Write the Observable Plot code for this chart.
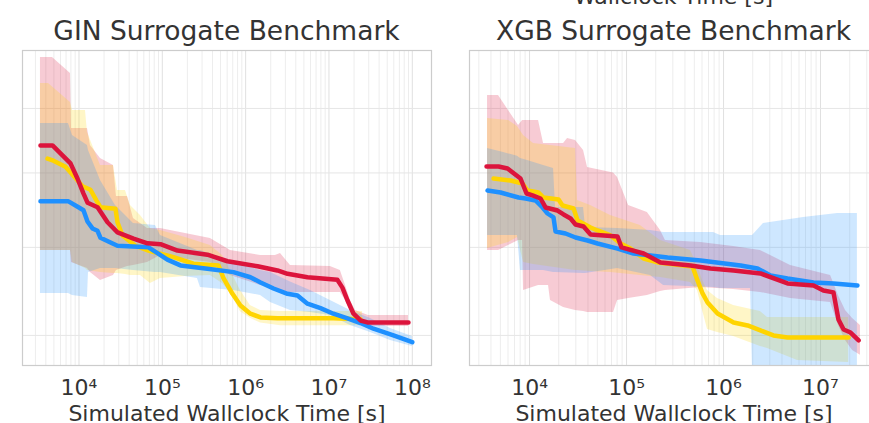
<!DOCTYPE html>
<html><head><meta charset="utf-8">
<script src="https://cdn.jsdelivr.net/npm/d3@7"></script>
<script src="https://cdn.jsdelivr.net/npm/@observablehq/plot@0.6"></script>
<style>
html,body{margin:0;padding:0;background:#fff;overflow:hidden;}
#wrap{position:relative;width:869px;height:423px;overflow:hidden;font-family:"DejaVu Sans",sans-serif;color:#333;}
.title{position:absolute;top:18px;width:409px;text-align:center;font-size:26.5px;line-height:26px;white-space:nowrap;}
.cut{position:absolute;top:-14px;left:469px;width:409px;text-align:center;font-size:22px;line-height:22px;white-space:nowrap;}
.panel{position:absolute;top:48px;width:440px;height:375px;}
.panel svg{max-width:none !important;width:440px;height:375px;}
</style></head><body>
<div id="wrap">
  <div class="cut">Wallclock Time [s]</div>
  <div class="title" style="left:22px">GIN Surrogate Benchmark</div>
  <div class="title" style="left:469px">XGB Surrogate Benchmark</div>
  <div class="panel" id="left" style="left:0px"></div>
  <div class="panel" id="right" style="left:440px"></div>
</div>
<script>
// ---------- shared ----------
const panelTitles = ["GIN Surrogate Benchmark", "XGB Surrogate Benchmark"];
const xLabel = "Simulated Wallclock Time [s]";
const yGrid = [5, 6, 7, 8];
const yDomain = [4.698, 9.02];
const colors = {red: "#dc143c", yellow: "#ffd400", blue: "#1e90ff"};

// ---------- GIN panel ----------
const ginDomain = [2100, 1.7e8];
const ginTicks = [1e4, 1e5, 1e6, 1e7, 1e8];

const ginRedT = [3450, 4810, 6340, 7910, 9590, 11300, 12700, 16700, 22000, 29000, 45100, 66400, 95100, 152000, 348000, 605000, 1.39e6, 2.41e6, 3.18e6, 5.52e6, 1.26e7, 1.45e7, 1.67e7, 1.97e7, 2.39e7, 2.90e7, 9.0e7];
const ginRedV = [7.41, 7.41, 7.26, 7.14, 6.92, 6.71, 6.58, 6.52, 6.32, 6.19, 6.11, 6.05, 6.04, 5.96, 5.91, 5.83, 5.77, 5.72, 5.68, 5.64, 5.61, 5.52, 5.375, 5.23, 5.157, 5.136, 5.136];

const ginYellowT = [4190, 4940, 6890, 8590, 11020, 13740, 16220, 18120, 27420, 28980, 33270, 47640, 68230, 87500, 136000, 237000, 472000, 542000, 695000, 867000, 1.14e6, 1.51e6, 2.41e6, 1.13e7, 2.39e7];
const ginYellowV = [7.21, 7.18, 7.09, 6.96, 6.81, 6.76, 6.61, 6.52, 6.50, 6.32, 6.15, 6.02, 5.96, 5.93, 5.88, 5.80, 5.78, 5.63, 5.45, 5.32, 5.23, 5.19, 5.18, 5.18, 5.17];

const ginBlueT = [3450, 7480, 9860, 11320, 12650, 14520, 16680, 18120, 23880, 28980, 68230, 87500, 115000, 165000, 348000, 714000, 1.14e6, 1.51e6, 2.16e6, 3.18e6, 4.19e6, 5.52e6, 7.91e6, 1.13e7, 1.67e7, 2.39e7, 3.42e7, 5.94e7, 1.0e8];
const ginBlueV = [6.60, 6.60, 6.52, 6.48, 6.33, 6.24, 6.21, 6.12, 6.06, 6.02, 6.00, 5.93, 5.85, 5.78, 5.74, 5.70, 5.64, 5.58, 5.51, 5.45, 5.43, 5.34, 5.29, 5.23, 5.18, 5.13, 5.07, 5.00, 4.93];

const ginRedBandT = [3450, 4810, 7910, 8130, 12650, 13740, 18120, 25940, 28180, 38190, 45080, 66370, 95100, 165000, 378000, 658000, 1.51e6, 2.28e6, 2.62e6, 3.45e6, 1.04e7, 1.37e7, 1.58e7, 1.81e7, 2.08e7, 2.98e7, 9.0e7];
const ginRedLo = [5.962, 5.962, 5.962, 5.816, 5.744, 5.697, 5.603, 5.661, 5.720, 5.768, 5.780, 5.816, 5.900, 5.863, 5.816, 5.661, 5.545, 5.511, 5.488, 5.466, 5.466, 5.466, 5.375, 5.265, 5.178, 5.093, 5.093];
const ginRedHi = [8.891, 8.891, 8.601, 7.675, 7.675, 7.409, 7.213, 7.109, 6.667, 6.667, 6.370, 6.239, 6.239, 6.188, 6.111, 5.962, 5.900, 5.900, 5.924, 5.780, 5.768, 5.720, 5.545, 5.375, 5.265, 5.211, 5.211];

const ginYellowBandT = [3450, 4310, 7910, 8360, 11970, 12650, 18120, 25940, 28980, 36140, 41500, 54700, 72100, 95100, 190000, 378000, 527000, 658000, 867000, 1.14e6, 1.51e6, 2.62e6, 2.52e7];
const ginYellowLo = [5.962, 5.962, 5.962, 5.816, 5.744, 5.720, 5.697, 5.685, 5.685, 5.673, 5.661, 5.661, 5.568, 5.626, 5.650, 5.661, 5.568, 5.466, 5.25, 5.18, 5.13, 5.10, 5.10];
const ginYellowHi = [8.424, 8.424, 8.100, 7.967, 7.967, 7.612, 7.109, 7.109, 6.750, 6.750, 6.544, 6.410, 6.239, 6.214, 6.124, 6.023, 5.900, 5.720, 5.488, 5.319, 5.265, 5.254, 5.254];

const ginBlueBandT = [3450, 7480, 8360, 12650, 13000, 18120, 27420, 45080, 82800, 95100, 264000, 287000, 714000, 1.51e6, 1.99e6, 3.45e6, 6.00e6, 1.04e7, 1.81e7, 3.15e7, 5.47e7, 1.0e8];
const ginBlueLo = [5.454, 5.454, 5.432, 5.409, 5.697, 5.744, 5.744, 5.720, 5.697, 5.697, 5.626, 5.522, 5.488, 5.432, 5.353, 5.265, 5.243, 5.211, 5.104, 5.030, 4.948, 4.887];
const ginBlueHi = [7.755, 7.755, 7.565, 7.409, 7.333, 6.891, 6.544, 6.304, 6.278, 6.150, 5.962, 5.962, 5.816, 5.720, 5.697, 5.585, 5.488, 5.375, 5.265, 5.178, 5.072, 4.989];

// ---------- XGB panel ----------
const xgbDomain = [2404, 3.96e7];
const xgbTicks = [1e4, 1e5, 1e6, 1e7];

const xgbRedT = [3600, 4786, 5934, 8070, 9310, 10740, 12980, 14620, 19440, 22430, 26490, 29800, 36040, 42580, 80800, 88800, 150000, 224000, 457000, 735000, 1.27e6, 2.40e6, 4.57e6, 8.47e6, 1.07e7, 1.36e7, 1.53e7, 1.73e7, 2.04e7, 2.47e7];
const xgbRedV = [7.094, 7.094, 7.065, 6.920, 6.708, 6.681, 6.639, 6.517, 6.476, 6.423, 6.370, 6.291, 6.265, 6.163, 6.137, 5.999, 5.924, 5.816, 5.780, 5.744, 5.720, 5.685, 5.568, 5.545, 5.488, 5.466, 5.168, 5.062, 5.030, 4.948];

const xgbYellowT = [4254, 6370, 8470, 9535, 12380, 13940, 19910, 21880, 28430, 31270, 42580, 50250, 68430, 86730, 110000, 150000, 209000, 479000, 539000, 608000, 684000, 867000, 1.27e6, 1.77e6, 2.40e6, 3.27e6, 4.57e6, 1.95e7];
const xgbYellowV = [6.920, 6.891, 6.849, 6.750, 6.722, 6.653, 6.626, 6.544, 6.503, 6.344, 6.252, 6.214, 6.150, 6.048, 5.985, 5.863, 5.816, 5.768, 5.603, 5.454, 5.353, 5.232, 5.135, 5.104, 5.052, 5.000, 4.979, 4.979];

const xgbBlueT = [3690, 5022, 7710, 9100, 11530, 13610, 15340, 17670, 18530, 23500, 29800, 39630, 50250, 80800, 118000, 265000, 580000, 1.50e6, 2.24e6, 3.05e6, 4.57e6, 8.47e6, 1.36e7, 2.40e7];
const xgbBlueV = [6.750, 6.722, 6.653, 6.639, 6.612, 6.517, 6.436, 6.383, 6.201, 6.175, 6.124, 6.086, 6.048, 5.985, 5.924, 5.876, 5.840, 5.780, 5.744, 5.661, 5.626, 5.580, 5.568, 5.545];

const xgbRedBandT = [3690, 4786, 7710, 8470, 8670, 12380, 13940, 15700, 16450, 22430, 24660, 29800, 36040, 39630, 73450, 80800, 105000, 164000, 224000, 252000, 580000, 1.27e6, 2.40e6, 4.91e6, 1.27e7, 1.53e7, 1.81e7, 2.14e7, 2.58e7];
const xgbRedHi = [8.218, 8.218, 7.722, 7.803, 7.803, 7.803, 7.440, 7.440, 7.440, 7.440, 7.517, 7.487, 7.333, 7.079, 7.000, 6.935, 6.544, 6.449, 6.214, 6.086, 6.061, 6.011, 5.962, 5.780, 5.661, 5.432, 5.265, 5.178, 5.104];
const xgbRedLo = [5.962, 5.962, 6.086, 6.086, 5.488, 5.545, 5.545, 5.545, 5.375, 5.298, 5.287, 5.265, 5.254, 5.243, 5.243, 5.375, 5.397, 5.432, 5.477, 5.488, 5.522, 5.499, 5.466, 5.397, 5.353, 5.104, 4.948, 4.847, 4.800];

const xgbYellowBandT = [3690, 6080, 7510, 8670, 11000, 29800, 31270, 42580, 68430, 139000, 224000, 457000, 539000, 608000, 684000, 867000, 1.27e6, 2.40e6, 2.84e6, 5.80e6, 1.95e7];
const xgbYellowHi = [7.835, 7.803, 7.706, 7.565, 7.440, 7.364, 6.612, 6.544, 6.410, 6.278, 6.086, 5.962, 5.780, 5.603, 5.488, 5.397, 5.319, 5.254, 5.189, 5.189, 5.189];
const xgbYellowLo = [5.985, 6.061, 6.124, 5.816, 5.792, 5.720, 5.720, 5.708, 5.697, 5.661, 5.638, 5.580, 5.488, 5.265, 5.062, 5.030, 4.989, 4.887, 4.867, 4.747, 4.727];

const xgbBlueBandT = [3690, 5396, 7510, 8070, 9535, 13940, 17670, 18530, 36040, 37760, 80800, 177000, 241000, 789000, 931000, 1.90e6, 1.99e6, 2.58e6, 6.68e6, 1.50e7, 2.40e7];
const xgbBlueHi = [7.364, 7.303, 7.245, 7.213, 7.183, 7.109, 7.065, 6.517, 6.517, 6.252, 6.239, 6.214, 6.188, 6.188, 6.150, 6.150, 6.150, 6.304, 6.383, 6.436, 6.436];
const xgbBlueLo = [6.150, 6.150, 6.150, 5.720, 5.720, 5.720, 5.697, 5.697, 5.685, 5.685, 5.744, 5.661, 5.545, 5.522, 5.511, 5.511, 4.650, 4.650, 4.650, 4.650, 4.650];

// ---------- helpers ----------
const sup = {"0":"⁰","1":"¹","2":"²","3":"³","4":"⁴","5":"⁵","6":"⁶","7":"⁷","8":"⁸","9":"⁹"};
const fmt = d => "10" + String(Math.round(Math.log10(d))).split("").map(c => sup[c]).join("");
function minorGrid(domain) {
  const out = [];
  const e0 = Math.floor(Math.log10(domain[0])), e1 = Math.ceil(Math.log10(domain[1]));
  for (let e = e0; e <= e1; e++)
    for (let m = 2; m <= 9; m++) { const v = m * Math.pow(10, e); if (v >= domain[0] && v <= domain[1]) out.push(v); }
  return out;
}
const series = (t, v) => t.map((x, i) => ({x, y: v[i]}));
const band = (t, lo, hi) => t.map((x, i) => ({x, lo: lo[i], hi: hi[i]}));

function drawPanel({width, marginLeft, marginRight, xDomain, xTicks, lines, bands}) {
  return Plot.plot({
    width, height: 375, marginLeft, marginRight, marginTop: 2, marginBottom: 58,
    style: {fontFamily: "DejaVu Sans", fontSize: "22px", color: "#333", background: "transparent", maxWidth: "none"},
    x: {type: "log", domain: xDomain, ticks: xTicks, tickFormat: fmt, tickSize: 0, tickPadding: 14,
        label: xLabel, labelAnchor: "center", labelOffset: 55, labelArrow: "none"},
    y: {type: "log", domain: yDomain, axis: null},
    marks: [
      Plot.ruleX(minorGrid(xDomain), {stroke: "#ededed", strokeWidth: 1}),
      Plot.ruleX(xTicks, {stroke: "#e0e0e0", strokeWidth: 1}),
      Plot.ruleY(yGrid, {stroke: "#e6e6e6", strokeWidth: 1}),
      ...bands.map(b => Plot.areaY(b.data, {x: "x", y1: "lo", y2: "hi", fill: b.color, fillOpacity: 0.22, clip: true})),
      ...lines.map(s => Plot.line(s.data, {x: "x", y: "y", stroke: s.color, strokeWidth: 4.5, strokeLinejoin: "round", strokeLinecap: "round", clip: true})),
      Plot.frame({stroke: "#cccccc", strokeWidth: 1.2})
    ]
  });
}

document.getElementById("left").append(drawPanel({
  width: 440, marginLeft: 22, marginRight: 9, xDomain: ginDomain, xTicks: ginTicks,
  bands: [
    {data: band(ginRedBandT, ginRedLo, ginRedHi), color: colors.red},
    {data: band(ginYellowBandT, ginYellowLo, ginYellowHi), color: colors.yellow},
    {data: band(ginBlueBandT, ginBlueLo, ginBlueHi), color: colors.blue}
  ],
  lines: [
    {data: series(ginYellowT, ginYellowV), color: colors.yellow},
    {data: series(ginBlueT, ginBlueV), color: colors.blue},
    {data: series(ginRedT, ginRedV), color: colors.red}
  ]
}));

document.getElementById("right").append(drawPanel({
  width: 440, marginLeft: 29, marginRight: 2, xDomain: xgbDomain, xTicks: xgbTicks,
  bands: [
    {data: band(xgbRedBandT, xgbRedLo, xgbRedHi), color: colors.red},
    {data: band(xgbYellowBandT, xgbYellowLo, xgbYellowHi), color: colors.yellow},
    {data: band(xgbBlueBandT, xgbBlueLo, xgbBlueHi), color: colors.blue}
  ],
  lines: [
    {data: series(xgbYellowT, xgbYellowV), color: colors.yellow},
    {data: series(xgbBlueT, xgbBlueV), color: colors.blue},
    {data: series(xgbRedT, xgbRedV), color: colors.red}
  ]
}));
</script>
</body></html>
